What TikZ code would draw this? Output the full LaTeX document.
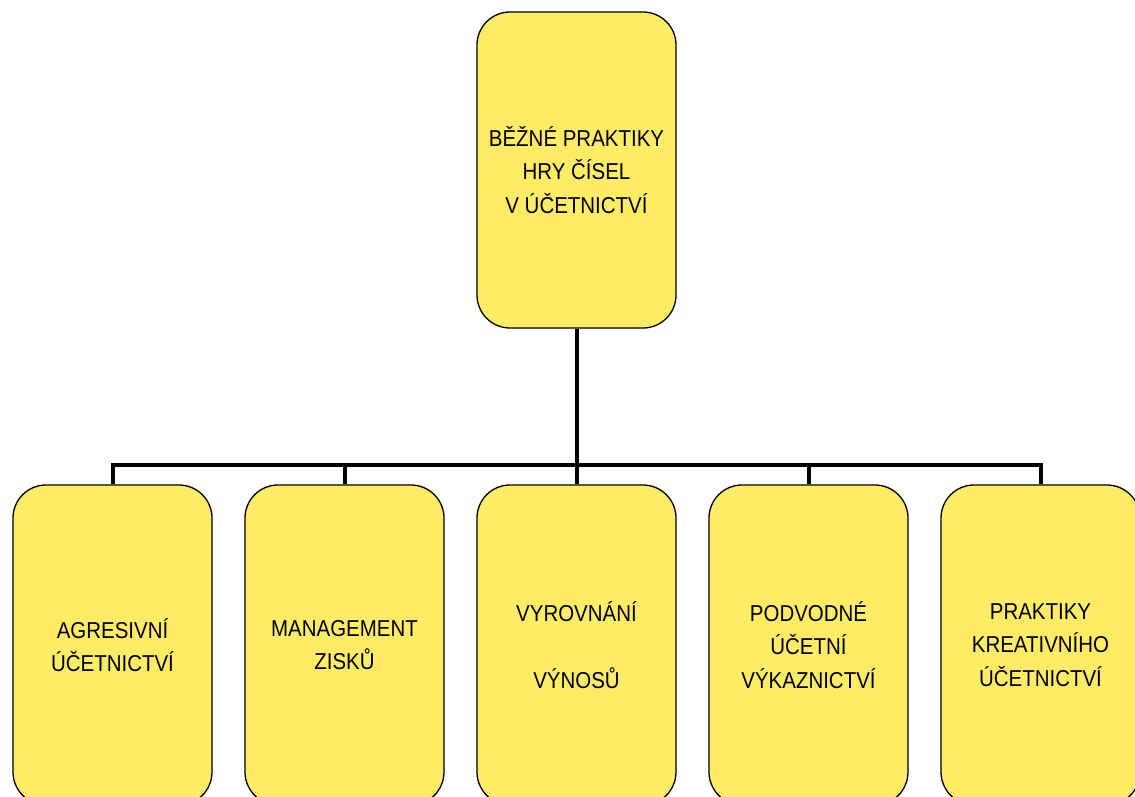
\documentclass[tikz,border=0pt]{standalone}
\usepackage{fontspec}
\setmainfont{Liberation Sans}[FakeStretch=0.89]
\definecolor{boxfill}{RGB}{255,236,102}
\tikzset{
  topic/.style={draw=black, line width=1.3pt, fill=boxfill, rounded corners=33pt,
    minimum width=199pt, align=center, inner sep=0pt,
    font=\fontsize{23}{33.3}\selectfont},
  conn/.style={draw=black, line width=4pt, line join=miter, line cap=butt}
}
\begin{document}
\begin{tikzpicture}[x=1pt, y=-1pt]
  \useasboundingbox (0,0) rectangle (1135,796);
  \clip (0,0) rectangle (1135,796);
  \fill[white] (0,0) rectangle (1135,796);

  % root of the hierarchy
  \node[topic, minimum height=316pt] (top) at (576.5,170)
    {BĚŽNÉ PRAKTIKY\\HRY ČÍSEL\\V ÚČETNICTVÍ};

  % second level
  \node[topic, minimum height=320pt] (a1) at (112.5,645) {AGRESIVNÍ\\ÚČETNICTVÍ};
  \node[topic, minimum height=320pt] (a2) at (344.5,645) {MANAGEMENT\\ZISKŮ};
  \node[topic, minimum height=320pt] (a3) at (576.5,645) {VYROVNÁNÍ\\\mbox{}\\VÝNOSŮ};
  \node[topic, minimum height=320pt] (a4) at (808.5,645) {PODVODNÉ\\ÚČETNÍ\\VÝKAZNICTVÍ};
  \node[topic, minimum height=320pt] (a5) at (1040.5,645) {PRAKTIKY\\KREATIVNÍHO\\ÚČETNICTVÍ};

  % bus connecting the root to its children
  \coordinate (bus) at (576.5,465);
  \draw[conn] (top.south) -- (bus);
  \draw[conn] (a1.north) -- (a1.north |- bus) -- (a5.north |- bus) -- (a5.north);
  \draw[conn] (a2.north) -- (a2.north |- bus);
  \draw[conn] (a3.north) -- (a3.north |- bus);
  \draw[conn] (a4.north) -- (a4.north |- bus);
\end{tikzpicture}
\end{document}
